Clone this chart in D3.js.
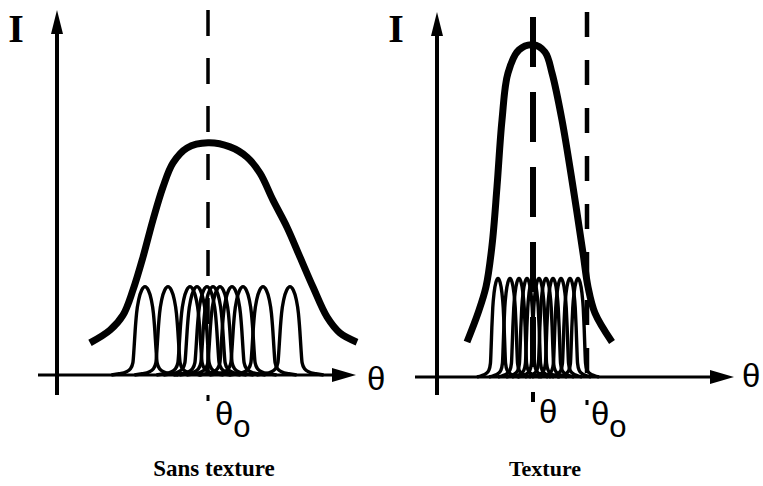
<!DOCTYPE html>
<html>
<head>
<meta charset="utf-8">
<script src="https://cdn.jsdelivr.net/npm/d3@7"></script>
<style>
  body { margin: 0; background: #fff; }
  svg { display: block; }
</style>
</head>
<body>
<div id="chart"></div>
<script>
// data (theta in arbitrary units, I in % of axis height)
var leftEnvelope = [
  [-11.8, 8.8], [-9.8, 12.3], [-8.5, 16.4], [-7.5, 23.3], [-6.5, 32.3], [-5.5, 42.5],
  [-4.5, 51.5], [-3.5, 58.1], [-2.1, 62.2], [0, 63.6], [2.2, 62.5], [3.9, 59.7],
  [5.2, 55.3], [6.5, 47.9], [7.9, 40.5], [9.2, 32.3], [10.5, 24.1], [11.9, 15.9],
  [13.2, 11.5], [14.9, 9.0]
];
var rightEnvelope = [
  [-6.6, 9.6], [-5.5, 17.5], [-4.7, 24.7], [-4.1, 36.0], [-3.6, 52.1], [-3.1, 70.4],
  [-2.5, 83.3], [-1.4, 89.6], [0, 91.0], [1.2, 89.0], [1.9, 83.3], [2.9, 70.4],
  [4.0, 52.1], [5.0, 34.0], [5.5, 24.7], [6.2, 17.5], [7.9, 9.6]
];
var leftPeakCenters = [-6.3, -4.0, -1.8, -1.1, -0.1, 0.5, 1.2, 2.4, 3.5, 5.5, 8.2];
var rightPeakCenters = [-3.5, -2.3, -1.4, -0.6, 0, 0.6, 1.3, 2.0, 2.8, 3.7, 4.5];
var leftPeakHeight = 24.2;
var rightPeakHeight = 27.0;
// shape of one small peak (half profile: offset, relative height)
var peakProfile = [
  [0, 1], [0.3, 0.96], [0.55, 0.86], [0.75, 0.7], [0.88, 0.5], [0.98, 0.3],
  [1.08, 0.14], [1.3, 0.07], [1.7, 0.035], [2.3, 0.015], [3.0, 0]
];
var theta0Left = 0;
var thetaRight = 0;
var theta0Right = 5.4;
var panelTitles = ["Sans texture", "Texture"];

var svg = d3.select("#chart").append("svg")
    .attr("width", 763).attr("height", 486);

// scales
var xL = d3.scaleLinear().domain([-15, 15]).range([58, 358]);
var yL = d3.scaleLinear().domain([0, 100]).range([375, 10]);
var xR = d3.scaleLinear().domain([-9.5, 21]).range([438, 743]);
var yR = d3.scaleLinear().domain([0, 100]).range([377, 12]);

function fullProfile(center, height, widthK) {
  var pts = [];
  for (var i = peakProfile.length - 1; i > 0; i--)
    pts.push([center - peakProfile[i][0] * widthK, peakProfile[i][1] * height]);
  peakProfile.forEach(function(p) {
    pts.push([center + p[0] * widthK, p[1] * height]);
  });
  return pts;
}

function drawPanel(g, x, y, envelope, centers, h, widthK) {
  var line = d3.line().x(d => x(d[0])).y(d => y(d[1])).curve(d3.curveMonotoneX);

  g.selectAll("path.peak").data(centers).enter().append("path")
    .attr("class", "peak")
    .attr("d", c => line(fullProfile(c, h, widthK)))
    .attr("fill", "none").attr("stroke", "#000").attr("stroke-width", 3.4);

  g.append("path").datum(envelope)
    .attr("d", d3.line().x(d => x(d[0])).y(d => y(d[1])).curve(d3.curveCatmullRom))
    .attr("fill", "none").attr("stroke", "#000").attr("stroke-width", 7)
    .attr("stroke-linecap", "butt");
}

function axes(g, x0, xEnd, yAxisX, yBase, yTop, yBottom) {
  g.append("line").attr("x1", x0).attr("x2", xEnd - 18)
    .attr("y1", yBase).attr("y2", yBase)
    .attr("stroke", "#000").attr("stroke-width", 3);
  g.append("path")
    .attr("d", `M${xEnd},${yBase} L${xEnd - 24},${yBase - 7} L${xEnd - 24},${yBase + 7} Z`)
    .attr("fill", "#000");
  g.append("line").attr("x1", yAxisX).attr("x2", yAxisX)
    .attr("y1", yBottom).attr("y2", yTop + 18)
    .attr("stroke", "#000").attr("stroke-width", 4);
  g.append("path")
    .attr("d", `M${yAxisX},${yTop} L${yAxisX - 6},${yTop + 24} L${yAxisX + 6},${yTop + 24} Z`)
    .attr("fill", "#000");
}

var gL = svg.append("g");
var gR = svg.append("g");

// dashed reference lines
gL.append("line").attr("x1", xL(theta0Left)).attr("x2", xL(theta0Left))
  .attr("y1", yL(100)).attr("y2", yL(0))
  .attr("stroke", "#000").attr("stroke-width", 3.5).attr("stroke-dasharray", "26,22");
gR.append("line").attr("x1", xR(thetaRight)).attr("x2", xR(thetaRight))
  .attr("y1", yR(98.6)).attr("y2", yR(0))
  .attr("stroke", "#000").attr("stroke-width", 6).attr("stroke-dasharray", "50,25");
gR.append("line").attr("x1", xR(theta0Right)).attr("x2", xR(theta0Right))
  .attr("y1", yR(100)).attr("y2", yR(0))
  .attr("stroke", "#000").attr("stroke-width", 4.5).attr("stroke-dasharray", "25,23");

drawPanel(gL, xL, yL, leftEnvelope, leftPeakCenters, leftPeakHeight, 1.12);
drawPanel(gR, xR, yR, rightEnvelope, rightPeakCenters, rightPeakHeight, 0.7);

axes(gL, 38, 356, 57, yL(0), 10, 395);
axes(gR, 415, 734, 437, yR(0), 12, 395);

// axis letters
var serif = "'Liberation Serif', 'Times New Roman', serif";
var sans = "'Liberation Sans', Arial, sans-serif";
[[16, 42], [396, 42]].forEach(function(p) {
  svg.append("text").attr("x", p[0]).attr("y", p[1]).attr("text-anchor", "middle")
    .attr("font-family", serif).attr("font-weight", "bold").attr("font-size", 40).text("I");
});
[[367, 390], [742, 387]].forEach(function(p) {
  svg.append("text").attr("x", p[0]).attr("y", p[1])
    .attr("font-family", sans).attr("font-size", 33).text("θ");
});

// tick marks and θ labels under the axes
function tick(x, y1, y2, w) {
  svg.append("line").attr("x1", x).attr("x2", x).attr("y1", y1).attr("y2", y2)
    .attr("stroke", "#000").attr("stroke-width", w);
}
function thetaLabel(x, y, sub) {
  var t = svg.append("text").attr("x", x).attr("y", y)
    .attr("font-family", sans).attr("font-size", 33).text("θ");
  if (sub) t.append("tspan").attr("dy", 12).attr("font-size", 31).text("o");
}
tick(xL(theta0Left), 395, 401, 3);
thetaLabel(xL(theta0Left) + 7, 425, true);
tick(xR(thetaRight), 392, 402, 4);
thetaLabel(xR(thetaRight) + 6, 423, false);
tick(xR(theta0Right), 400, 405, 3);
thetaLabel(xR(theta0Right) + 4, 425, true);

// panel titles
svg.append("text").attr("x", 214).attr("y", 476).attr("text-anchor", "middle")
  .attr("font-family", serif).attr("font-weight", "bold").attr("font-size", 23)
  .text(panelTitles[0]);
svg.append("text").attr("x", 545).attr("y", 476).attr("text-anchor", "middle")
  .attr("font-family", serif).attr("font-weight", "bold").attr("font-size", 22)
  .text(panelTitles[1]);
</script>
</body>
</html>
